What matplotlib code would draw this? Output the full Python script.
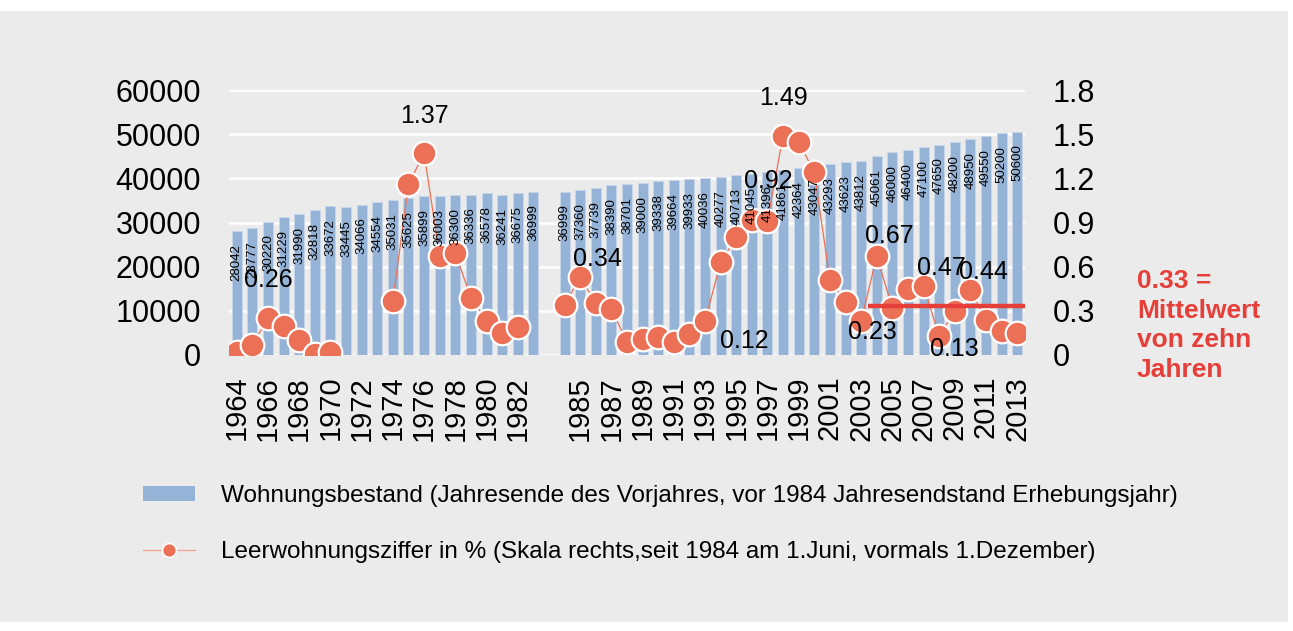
import numpy as np
import matplotlib
matplotlib.use("Agg")
import matplotlib.pyplot as plt
from matplotlib.patches import Rectangle
from matplotlib.lines import Line2D
from matplotlib.patches import Patch

plt.rcParams['font.family'] = ['Liberation Sans', 'DejaVu Sans']

# Jahre: 1964-1983, Lücke, 1984-2013
years_a = list(range(1964, 1984))
years_b = list(range(1984, 2014))

bestand_a = [28042, 28777, 30220, 31229, 31990, 32818, 33672, 33445, 34066, 34554,
             35031, 35625, 35899, 36003, 36300, 36336, 36578, 36241, 36675, 36999]
bestand_b = [36999, 37360, 37739, 38390, 38701, 39000, 39338, 39664, 39933, 40036,
             40277, 40713, 41045, 41396, 41861, 42364, 43047, 43293, 43623, 43812,
             45061, 46000, 46400, 47100, 47650, 48200, 48950, 49550, 50200, 50600]

leer_a = [0.02, 0.07, 0.25, 0.20, 0.10, 0.01, 0.02, np.nan, np.nan, np.nan,
          0.37, 1.16, 1.37, 0.67, 0.69, 0.39, 0.23, 0.15, 0.19, np.nan]
leer_b = [0.34, 0.53, 0.35, 0.31, 0.09, 0.11, 0.12, 0.09, 0.14, 0.23,
          0.63, 0.80, 0.92, 0.91, 1.49, 1.45, 1.24, 0.51, 0.36, 0.23,
          0.67, 0.32, 0.45, 0.47, 0.13, 0.30, 0.44, 0.24, 0.16, 0.15]

# data labels: (year, text, offset in px)
point_labels = [(1966, "0.26", (0, 38)), (1976, "1.37", (0, 37)), (1984, "0.34", (33, 46)),
                (1990, "0.12", (86, -4)), (1996, "0.92", (16, 39)), (1998, "1.49", (0, 38)),
                (2003, "0.23", (11, -11)), (2004, "0.67", (13, 20)), (2007, "0.47", (18, 18)),
                (2008, "0.13", (15, -13)), (2010, "0.44", (13, 18))]

mittel = 0.33
mittel_years = (2004, 2013)

# categories incl. blank slot
cats = [str(y) for y in years_a] + [""] + [str(y) for y in years_b]
bestand = bestand_a + [np.nan] + bestand_b
leer = leer_a + [np.nan] + leer_b
x = np.arange(len(cats))
pos = {c: i for i, c in enumerate(cats) if c}

bar_col = '#95B3D7'
line_col = '#EC7056'
red = '#E63E38'

fig = plt.figure(figsize=(12.93, 6.31), dpi=100, facecolor='white')
fig.patches.append(Rectangle((0, 1 - 622 / 631), 1288 / 1293, 611 / 631,
                             transform=fig.transFigure, facecolor='#EBEBEB',
                             edgecolor='none', zorder=-10))

ax = fig.add_axes([229 / 1293, 1 - 355 / 631, 796 / 1293, 265 / 631])
ax.set_facecolor('none')
ax2 = ax.twinx()

bars = ax.bar(x, bestand, width=0.64, color=bar_col, edgecolor='#C9D7EA', linewidth=0.6, zorder=2)
ax.set_ylim(0, 60000)
ax.set_yticks(range(0, 60001, 10000))
ax.grid(axis='y', color='white', linewidth=1.8, zorder=0)
ax.set_axisbelow(True)
ax.set_xlim(-0.5, len(cats) - 0.5)
ax.set_xticks(x[::2])
ax.set_xticklabels(cats[::2], rotation=90, fontsize=21)
ax.tick_params(axis='y', labelsize=22, pad=20, length=0)
ax.tick_params(axis='x', pad=15, length=0)
for s in ax.spines.values():
    s.set_visible(False)

ax2.plot(x, leer, color=line_col, linewidth=0.9, marker='o', markersize=17,
         markerfacecolor=line_col, markeredgecolor='white', markeredgewidth=1.6, zorder=3)
ax2.set_ylim(0, 1.8)
ax2.set_yticks([0, 0.3, 0.6, 0.9, 1.2, 1.5, 1.8])
ax2.set_yticklabels(["0", "0.3", "0.6", "0.9", "1.2", "1.5", "1.8"])
ax2.tick_params(axis='y', labelsize=22, pad=20, length=0)
for s in ax2.spines.values():
    s.set_visible(False)

# bar value labels on top of markers
for xi, v in zip(x, bestand):
    if np.isnan(v):
        continue
    ax2.annotate(str(int(v)), xy=(xi, v), xycoords=ax.transData, xytext=(0, -13),
                 textcoords='offset pixels', rotation=90, ha='center', va='top',
                 fontsize=9.5, zorder=5)

for yr, txt, off in point_labels:
    i = pos[str(yr)]
    ax2.annotate(txt, xy=(i, leer[i]), xytext=off, textcoords='offset pixels',
                 ha='center', va='center', fontsize=18, zorder=6)

# Mittelwert line
x0 = pos[str(mittel_years[0])] - 0.55
x1 = pos[str(mittel_years[1])] + 0.6
ax2.plot([x0, x1], [mittel, mittel], color=red, linewidth=3.2, zorder=4, solid_capstyle='butt')

fig.text(1137 / 1293, 1 - 269 / 631, "0.33 =\nMittelwert\nvon zehn\nJahren", color=red,
         fontsize=19, fontweight='bold', ha='left', va='top', linespacing=1.3)

handles = [Patch(facecolor=bar_col, edgecolor='none'),
           Line2D([], [], color='#F3A08E', linewidth=0.9, marker='o', markersize=10,
                  markerfacecolor=line_col, markeredgecolor='white', markeredgewidth=1.2)]
labels = ["Wohnungsbestand (Jahresende des Vorjahres, vor 1984 Jahresendstand Erhebungsjahr)",
          "Leerwohnungsziffer in % (Skala rechts,seit 1984 am 1.Juni, vormals 1.Dezember)"]
fig.legend(handles, labels, loc='upper left', bbox_to_anchor=(143 / 1293, 1 - 485 / 631),
           frameon=False, fontsize=17.5, handlelength=2.15, handleheight=0.55,
           handletextpad=1.05, labelspacing=1.38, borderpad=0, borderaxespad=0)

fig.savefig("out.png", dpi=100, facecolor='white')
